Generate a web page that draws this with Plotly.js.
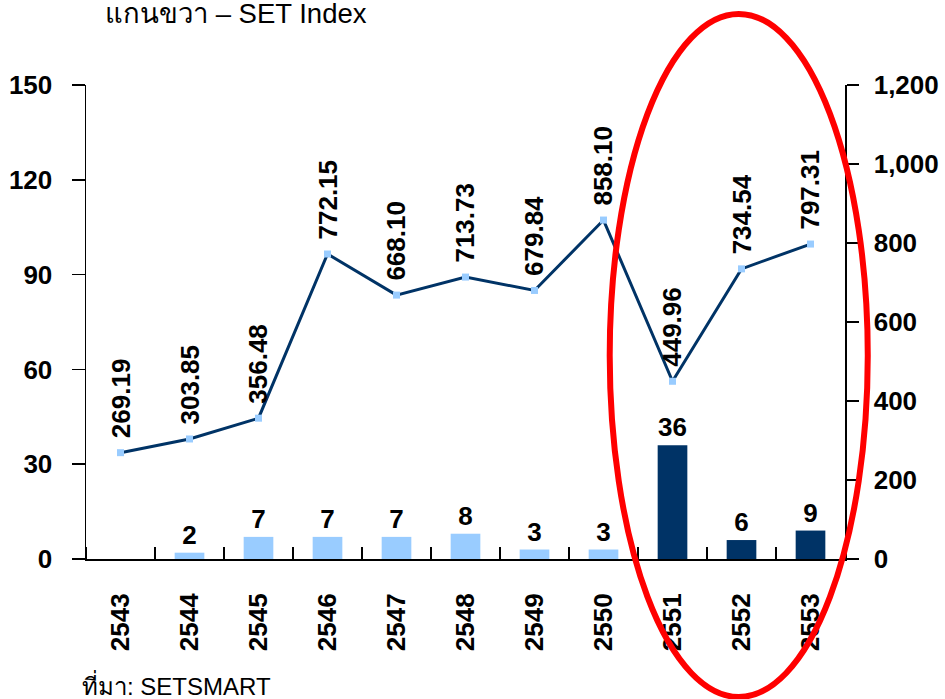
<!DOCTYPE html>
<html><head><meta charset="utf-8">
<script src="https://cdn.plot.ly/plotly-3.0.1.min.js"></script>
<style>html,body{margin:0;padding:0;background:#fff}</style>
</head><body>
<div id="chart" style="width:945px;height:699px"></div>
<script>
const years = ['2543','2544','2545','2546','2547','2548','2549','2550','2551','2552','2553'];
const barValues = [0, 2, 7, 7, 7, 8, 3, 3, 36, 6, 9];
const barLabels = ['', '2', '7', '7', '7', '8', '3', '3', '36', '6', '9'];
const setIndex = [269.19, 303.85, 356.48, 772.15, 668.10, 713.73, 679.84, 858.10, 449.96, 734.54, 797.31];
const setLabels = ['269.19','303.85','356.48','772.15','668.10','713.73','679.84','858.10','449.96','734.54','797.31'];
const highlightFrom = '2551';

const FONT = 'Liberation Sans, Arial, sans-serif';
const BOLD = {family: FONT, size: 26, color: '#000', weight: 'bold'};
const pos = years.map((y, i) => i);
const bounds = years.map((y, i) => i - 0.5).concat([years.length - 0.5]);
const hiIdx = years.indexOf(highlightFrom);
const barColors = years.map((y, i) => i >= hiIdx ? '#003366' : '#99CCFF');

const traces = [
  {
    type: 'bar', x: pos, y: barValues, yaxis: 'y',
    marker: {color: barColors}, width: 0.43,
    text: barLabels, textposition: 'outside', cliponaxis: false,
    textfont: BOLD, hoverinfo: 'skip'
  },
  {
    type: 'scatter', mode: 'lines+markers', x: pos, y: setIndex, yaxis: 'y2',
    line: {color: '#003366', width: 3},
    marker: {symbol: 'square', size: 7, color: '#99CCFF'},
    cliponaxis: false, hoverinfo: 'skip'
  }
];

const annotations = pos.map((p, i) => ({
  x: p, y: setIndex[i], xref: 'x', yref: 'y2',
  text: setLabels[i], showarrow: false, textangle: -90,
  xanchor: 'center', yanchor: 'bottom', yshift: 12,
  font: BOLD
}));
annotations.push({
  xref: 'paper', yref: 'paper', x: 0.022, y: 1.151, xanchor: 'left', yanchor: 'middle',
  text: 'แกนขวา – SET Index', showarrow: false,
  font: {family: FONT, size: 27.5, color: '#000'}
});
annotations.push({
  xref: 'paper', yref: 'paper', x: -0.008, y: -0.266, xanchor: 'left', yanchor: 'middle',
  text: 'ที่มา: SETSMART', showarrow: false,
  font: {family: FONT, size: 24, color: '#000'}
});

const layout = {
  width: 945, height: 699,
  margin: {l: 86, r: 100, t: 85, b: 140},
  paper_bgcolor: '#fff', plot_bgcolor: '#fff',
  showlegend: false,
  font: {family: FONT, color: '#000'},
  xaxis: {
    range: [-0.5, years.length - 0.5], showgrid: false, zeroline: false,
    showline: true, linecolor: '#000', linewidth: 2,
    tickvals: pos, ticktext: years, ticks: '',
    tickangle: -90, ticklabelstandoff: 22,
    tickfont: BOLD,
    minor: {tickvals: bounds, ticks: 'inside', ticklen: 12, tickcolor: '#000', tickwidth: 1.5, showgrid: false}
  },
  yaxis: {
    range: [0, 150], tickvals: [0, 30, 60, 90, 120, 150],
    showgrid: false, zeroline: false,
    showline: true, linecolor: '#000', linewidth: 1.5,
    ticks: 'outside', ticklen: 13, tickcolor: '#000', tickwidth: 1.5,
    ticklabelstandoff: 14,
    tickfont: BOLD
  },
  yaxis2: {
    range: [0, 1200], tickvals: [0, 200, 400, 600, 800, 1000, 1200],
    ticktext: ['0', '200', '400', '600', '800', '1,000', '1,200'],
    overlaying: 'y', side: 'right', showgrid: false, zeroline: false,
    showline: true, linecolor: '#000', linewidth: 1.5,
    ticks: 'outside', ticklen: 12, tickcolor: '#000', tickwidth: 1.5,
    ticklabelstandoff: 10,
    tickfont: BOLD
  },
  annotations: annotations,
  shapes: [{
    type: 'circle', xref: 'paper', yref: 'paper',
    x0: 0.690, x1: 1.030, y0: -0.291, y1: 1.150,
    line: {color: '#FF0000', width: 6}, fillcolor: 'rgba(0,0,0,0)'
  }]
};

Plotly.newPlot('chart', traces, layout, {displayModeBar: false, staticPlot: true});
</script>
</body></html>
